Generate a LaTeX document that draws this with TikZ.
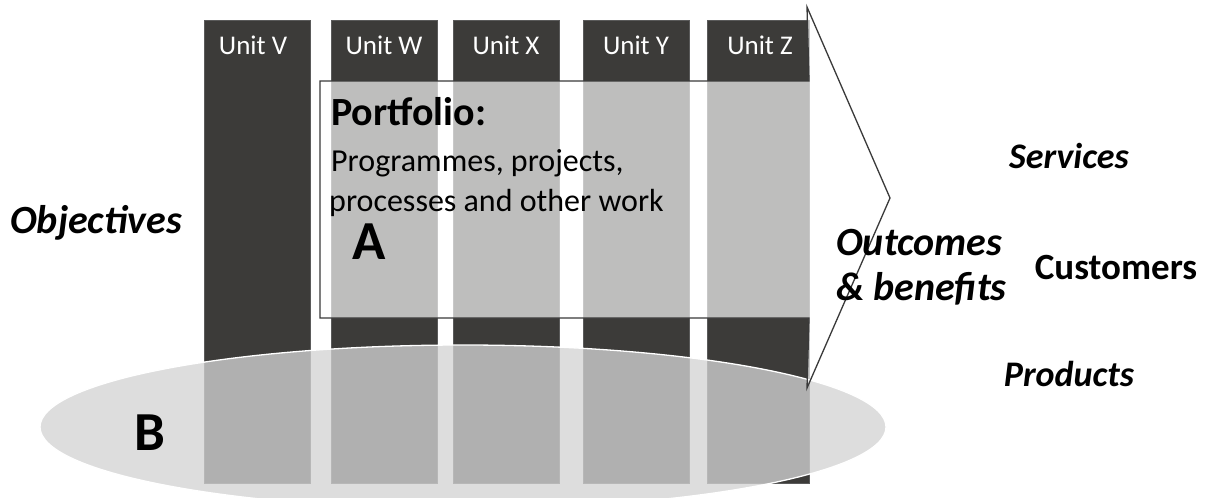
\documentclass[tikz,border=0pt]{standalone}
\usepackage{fontspec}
\setmainfont{Carlito}
\definecolor{coldark}{RGB}{60,59,57}
\definecolor{colrim}{RGB}{90,90,90}
\definecolor{ellfill}{RGB}{212,212,212}
\definecolor{arrline}{RGB}{58,58,58}
\begin{document}
\begin{tikzpicture}[x=1pt,y=-1pt,
  colbox/.style={fill=coldark, draw=colrim, line width=0.5pt, minimum width=106pt, minimum height=463pt, inner sep=0pt},
  unitlbl/.style={text=white, font=\fontsize{27}{32}\selectfont, anchor=base, inner sep=0pt},
  arrowshape/.style={fill=white, fill opacity=0.67, draw=arrline, line width=1.3pt, line join=miter},
  ellip/.style={fill=ellfill, fill opacity=0.77, draw=white, line width=1.3pt},
  bigtxt/.style={font=\fontsize{36}{43}\selectfont\bfseries\itshape, inner sep=0pt},
  largetxt/.style={font=\fontsize{40}{48}\selectfont\bfseries\itshape, inner sep=0pt},
  bodytxt/.style={font=\fontsize{32}{38}\selectfont, inner sep=0pt, anchor=base west},
  letter/.style={font=\fontsize{55}{66}\selectfont\bfseries, inner sep=0pt, anchor=base}
]
\useasboundingbox (0,0) rectangle (1205,498);
\fill[white] (0,0) rectangle (1205,498);

% unit columns
\node[colbox] (colV) at (257,251.5) {};
\node[colbox] (colW) at (384,251.5) {};
\node[colbox] (colX) at (506,251.5) {};
\node[colbox] (colY) at (636,251.5) {};
\node[colbox, minimum width=102pt] (colZ) at (758,251.5) {};

% objectives / B ellipse
\draw[ellip] (463,427) ellipse [x radius=423, y radius=82];

% portfolio arrow
\draw[arrowshape] (320,81) -- (809,81) -- (807,7) -- (890,198) -- (807,388) -- (809,318) -- (320,318) -- cycle;

% unit labels
\node[unitlbl] (lV) at (253,54) {Unit V};
\node[unitlbl] (lW) at (384,54) {Unit W};
\node[unitlbl] (lX) at (506,54) {Unit X};
\node[unitlbl] (lY) at (636,54) {Unit Y};
\node[unitlbl] (lZ) at (760,54) {Unit Z};

% portfolio text
\node[font=\fontsize{40}{48}\selectfont\bfseries, inner sep=0pt, anchor=base west] (port) at (331,125) {Portfolio:};
\node[bodytxt] (prog1) at (331,171) {Programmes, projects,};
\node[bodytxt] (prog2) at (329,211) {processes and other work};
\node[letter] (A) at (369,259) {A};
\node[letter] (B) at (150,450) {B};

% side labels
\node[largetxt, anchor=base west] (obj) at (10,233) {Objectives};
\node[bigtxt, anchor=base] (serv) at (1069,168) {Services};
\node[largetxt, anchor=base west] (outc1) at (836,255) {Outcomes};
\node[largetxt, anchor=base west] (outc2) at (836,300) {\&~benefits};
\node[font=\fontsize{37}{44}\selectfont\bfseries, inner sep=0pt, anchor=base] (cust) at (1116,279) {Customers};
\node[bigtxt, anchor=base] (prod) at (1069,386) {Products};
\end{tikzpicture}
\end{document}
